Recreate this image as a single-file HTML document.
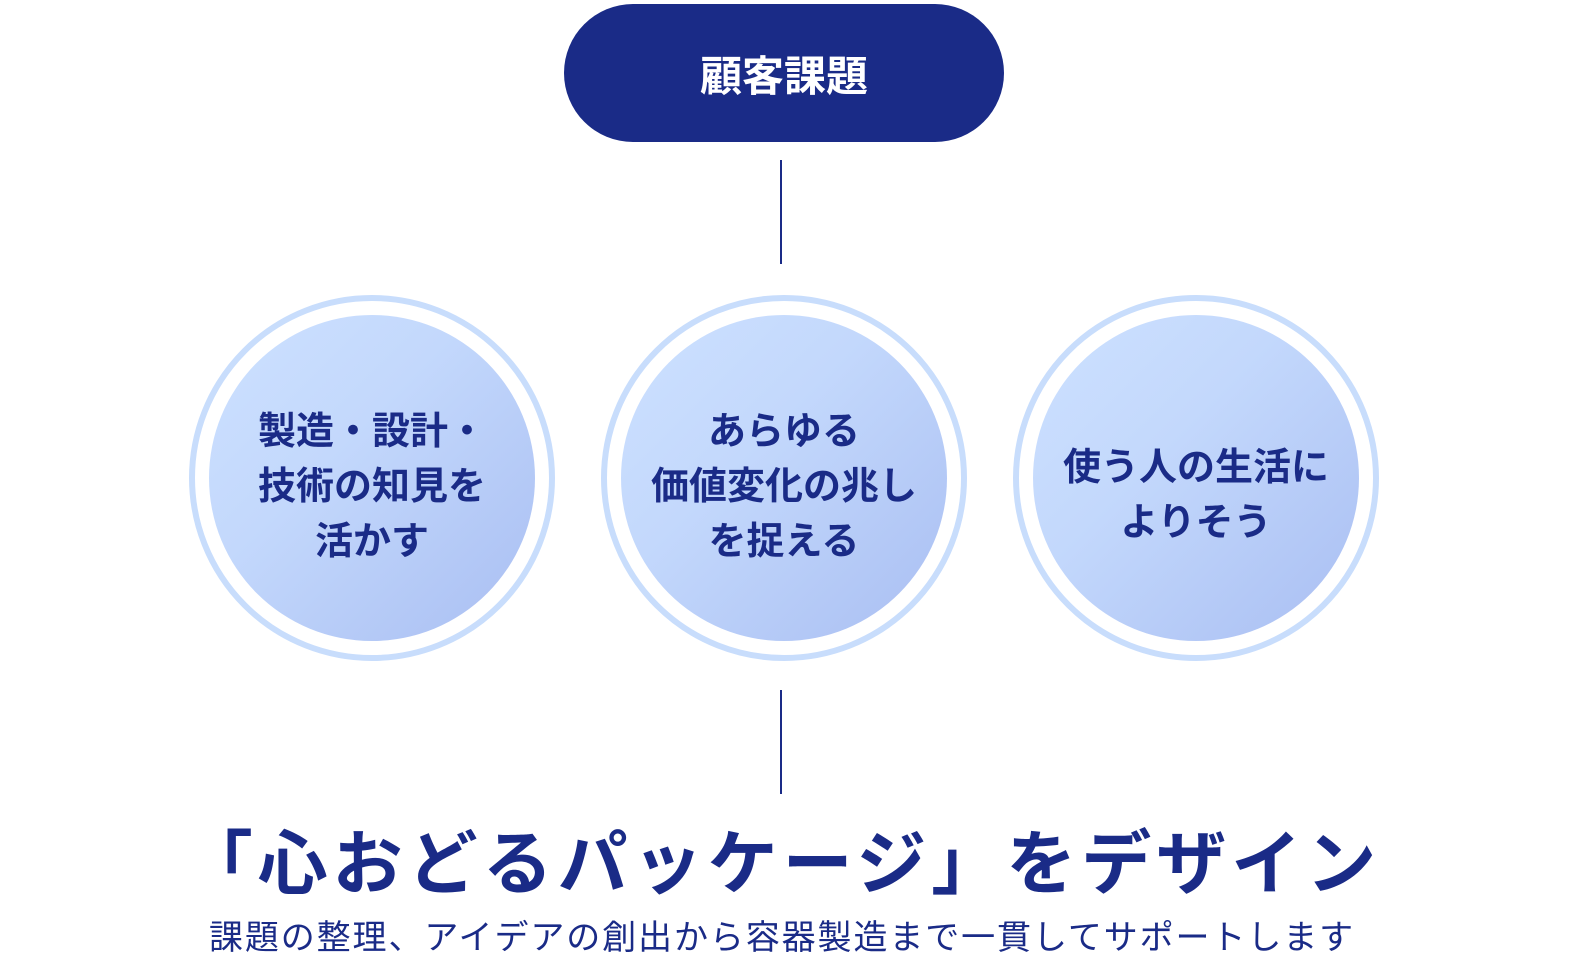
<!DOCTYPE html>
<html><head><meta charset="utf-8"><style>
body{margin:0;width:1580px;height:960px;background:#fff;position:relative;overflow:hidden;font-family:"Liberation Sans","Noto Sans CJK JP",sans-serif;color:#1a2b87}
.pill{position:absolute;left:564px;top:4px;width:440px;height:138px;border-radius:69px;background:#1a2b87;color:#fff;font-size:42px;font-weight:bold;display:flex;align-items:center;justify-content:center}
.line{position:absolute;left:780px;width:2px;background:#1a2b87}
.ring{position:absolute;top:295px;width:354px;height:354px;border:6px solid #c8ddfc;border-radius:50%;background:#fff}
.in{position:absolute;left:14px;top:14px;width:326px;height:326px;box-sizing:border-box;border-radius:50%;background:linear-gradient(135deg,#cde1ff 0%,#c3d8fc 40%,#a9bef2 100%);display:flex;align-items:center;justify-content:center;text-align:center;font-size:38px;font-weight:bold;line-height:55px}
.t{position:absolute;left:0;width:1564px;text-align:center;white-space:nowrap}
</style></head><body>
<div class="pill">顧客課題</div>
<div class="line" style="top:160px;height:104px"></div>
<div class="line" style="top:690px;height:104px"></div>
<div class="ring" style="left:189px"><div class="in" style="padding-top:18px">製造・設計・<br>技術の知見を<br>活かす</div></div>
<div class="ring" style="left:601px"><div class="in" style="padding-top:18px">あらゆる<br>価値変化の兆し<br>を捉える</div></div>
<div class="ring" style="left:1013px"><div class="in" style="padding-top:36px">使う人の生活に<br>よりそう</div></div>
<div class="t" style="top:808px;font-size:70px;font-weight:bold;letter-spacing:5px">「心おどるパッケージ」をデザイン</div>
<div class="t" style="top:918px;font-size:34px;letter-spacing:1.9px;line-height:40px">課題の整理、アイデアの創出から容器製造まで一貫してサポートします</div>
</body></html>
